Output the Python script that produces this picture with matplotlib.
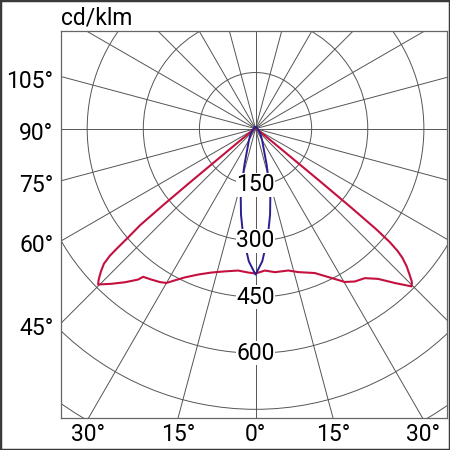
import numpy as np
import matplotlib
matplotlib.use("Agg")
import matplotlib.pyplot as plt
from matplotlib.patches import Circle, Rectangle

plt.rcParams['font.family'] = ['Roboto', 'DejaVu Sans']

# ==========================
# DATA
# ==========================
unit_label = "cd/klm"
ring_values = [150, 300, 450, 600, 750, 900]
ring_labels = ["150", "300", "450", "600"]
spoke_step = 15

side_angles = [105, 90, 75, 60, 45]
side_labels = ["105°", "90°", "75°", "60°", "45°"]
bottom_angles = [-30, -15, 0, 15, 30]
bottom_labels = ["30°", "15°", "0°", "15°", "30°"]

# red plane, gamma from nadir (deg) -> cd/klm, right half
red_gamma_right = [0, 3.8, 7.7, 13, 16.6, 22.3, 27, 30.2, 33, 36.2, 39.2, 42.1,
                   44.7, 45.6, 46.6, 47.7, 48.7, 49.3, 49.8, 50.2, 50.5, 50.8, 51.2, 52, 54, 58, 65, 90, 135, 180]
red_value_right = [387, 380, 387, 389, 400, 417, 448, 474, 487, 495, 518, 556,
                   593, 585, 566, 546, 522, 500, 470, 420, 330, 220, 120, 60, 25, 12, 6, 3, 2, 2]
# red plane, left half
red_gamma_left = [0, 2.9, 7, 12.1, 17, 21.5, 25.4, 28, 30, 31.9, 34.6, 37.2, 37.9,
                  40.4, 42.9, 45.3, 46.1, 47.25, 48.3, 48.9, 49.2, 49.5, 50.1, 50.4, 50.7, 51.1, 52, 54, 58, 65, 90, 135, 180]
red_value_left = [387, 385, 382, 390, 402, 419, 440, 459, 476, 483, 490, 497, 511,
                  539, 566, 592, 582, 563, 543, 517, 486, 449, 402, 320, 220, 120, 60, 25, 12, 6, 3, 2, 2]

# blue plane (symmetric)
blue_gamma = [0, 2.9, 4.7, 7.1, 9.6, 12, 14.2, 17.2, 22.5, 30, 40, 60, 90, 120, 150, 180]
blue_value = [390, 355, 320, 277, 233, 190, 145, 100, 56, 35, 21, 10, 5, 4, 4, 4]

RED = "#c4103f"
BLUE = "#2a1f8f"
GRID = "#555555"

XMIN, XMAX = -520, 511
YMIN, YMAX = -774, 261


def to_xy(theta_deg, values):
    t = np.radians(np.asarray(theta_deg, dtype=float))
    r = np.asarray(values, dtype=float)
    return r * np.sin(t), -r * np.cos(t)


def closed_curve(g_left, v_left, g_right, v_right):
    theta = np.concatenate([-np.asarray(g_left, float)[::-1], np.asarray(g_right, float)[1:]])
    vals = np.concatenate([np.asarray(v_left, float)[::-1], np.asarray(v_right, float)[1:]])
    return to_xy(theta, vals)


fig = plt.figure(figsize=(4.5, 4.5), dpi=100)
ax = fig.add_axes([61 / 450, (450 - 418.3) / 450, 385.7 / 450, 387.3 / 450])
ax.set_xlim(XMIN, XMAX)
ax.set_ylim(YMIN, YMAX)
ax.set_xticks([])
ax.set_yticks([])
for s in ax.spines.values():
    s.set_color("#666666")
    s.set_linewidth(0.9)

# grid: spokes and rings
for a in range(0, 360, spoke_step):
    sx, sy = to_xy([0, a], [0, 1400])
    ax.plot([0, sx[1]], [0, sy[1]], color=GRID, lw=0.7, zorder=1)
for rv in ring_values:
    ax.add_patch(Circle((0, 0), rv, fill=False, edgecolor=GRID, lw=0.7, zorder=1))

# curves
rx, ry = closed_curve(red_gamma_left, red_value_left, red_gamma_right, red_value_right)
ax.plot(rx, ry, color=RED, lw=1.5, zorder=3, solid_joinstyle='round')
bx, by = closed_curve(blue_gamma, blue_value, blue_gamma, blue_value)
ax.plot(bx, by, color=BLUE, lw=1.4, zorder=4, solid_joinstyle='round')

# ring labels
for rv, lab in zip(ring_values, ring_labels):
    ax.text(0, -rv, lab, ha='center', va='center', fontsize=16.5, zorder=5,
            bbox=dict(facecolor='white', edgecolor='none', pad=0.3))

# side angle labels (left edge)
for a, lab in zip(side_angles, side_labels):
    y = XMIN / np.tan(np.radians(a)) if a != 90 else 0.0
    ax.annotate(lab, (XMIN, y), xytext=(-5.5, -3.5), textcoords='offset points',
                ha='right', va='center', fontsize=16.5, annotation_clip=False)

# bottom angle labels
for a, lab in zip(bottom_angles, bottom_labels):
    x = -YMIN * np.tan(np.radians(a))
    ha = 'center'
    if x - 45 < XMIN:
        x, ha = XMIN, 'left'
    ax.annotate(lab, (x, YMIN), xytext=(0, -11.5), textcoords='offset points',
                ha=ha, va='center', fontsize=16.5, annotation_clip=False)

fig.text(61 / 450, (450 - 25) / 450, unit_label, ha='left', va='baseline', fontsize=16.5)

fig.patches.append(Rectangle((0, 0), 1, 1, transform=fig.transFigure, fill=False,
                             edgecolor="#3a3a3a", lw=2.5))

fig.savefig("out.png", dpi=100)
